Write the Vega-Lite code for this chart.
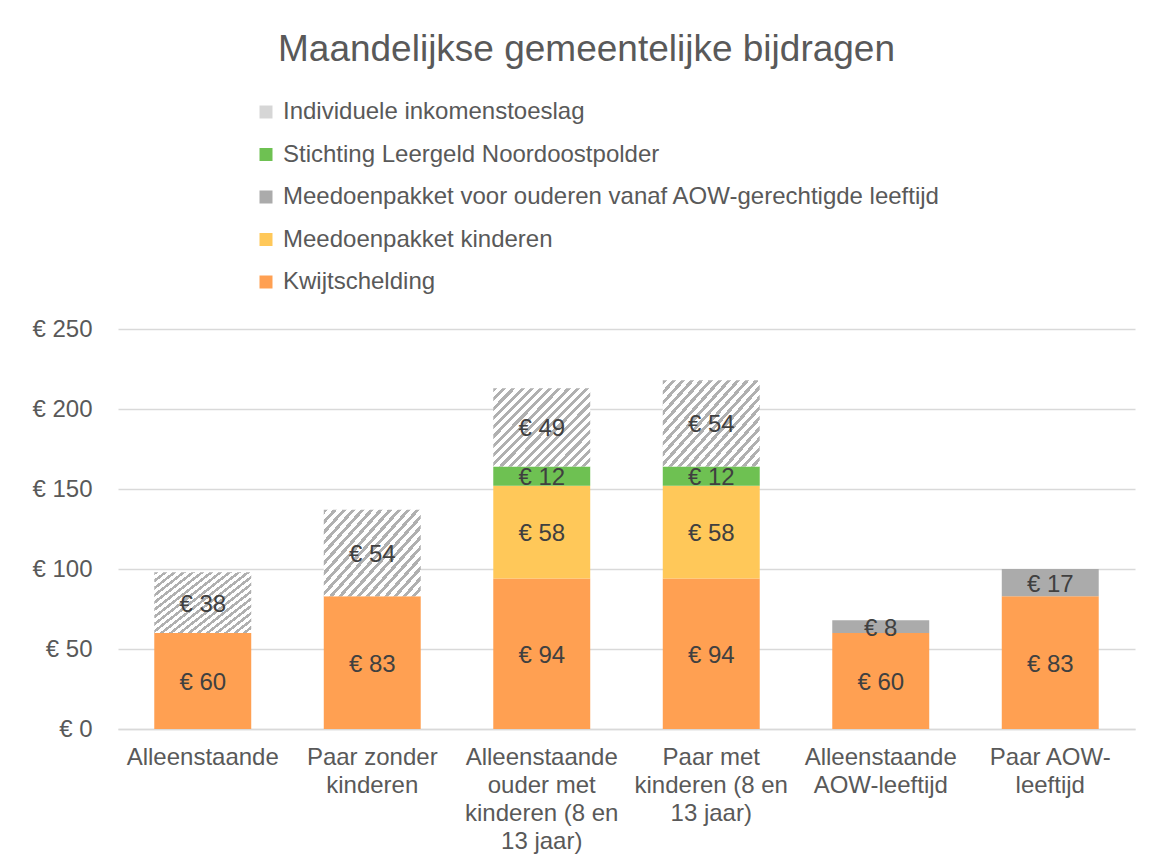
{
  "$schema": "https://vega.github.io/schema/vega-lite/v6.json",
  "width": 1017,
  "height": 400,
  "autosize": {"type": "none"},
  "padding": {"left": 118, "top": 329, "right": 25, "bottom": 132},
  "background": "white",
  "title": {
    "text": "Maandelijkse gemeentelijke bijdragen",
    "font": "Liberation Sans",
    "fontSize": 37,
    "fontWeight": "normal",
    "color": "#595959",
    "anchor": "middle",
    "frame": "group",
    "dx": -40,
    "offset": 31
  },
  "config": {
    "view": {"stroke": null},
    "locale": {"number": {"decimal": ",", "thousands": ".", "grouping": [3], "currency": ["€ ", ""]}}
  },
  "data": {
    "values": [
      {"groep": "Alleenstaande", "regeling": "Kwijtschelding", "bedrag": 60, "volgorde": 1},
      {"groep": "Alleenstaande", "regeling": "Individuele inkomenstoeslag", "bedrag": 38, "volgorde": 5},
      {"groep": "Paar zonder kinderen", "regeling": "Kwijtschelding", "bedrag": 83, "volgorde": 1},
      {"groep": "Paar zonder kinderen", "regeling": "Individuele inkomenstoeslag", "bedrag": 54, "volgorde": 5},
      {"groep": "Alleenstaande ouder met kinderen (8 en 13 jaar)", "regeling": "Kwijtschelding", "bedrag": 94, "volgorde": 1},
      {"groep": "Alleenstaande ouder met kinderen (8 en 13 jaar)", "regeling": "Meedoenpakket kinderen", "bedrag": 58, "volgorde": 2},
      {"groep": "Alleenstaande ouder met kinderen (8 en 13 jaar)", "regeling": "Stichting Leergeld Noordoostpolder", "bedrag": 12, "volgorde": 4},
      {"groep": "Alleenstaande ouder met kinderen (8 en 13 jaar)", "regeling": "Individuele inkomenstoeslag", "bedrag": 49, "volgorde": 5},
      {"groep": "Paar met kinderen (8 en 13 jaar)", "regeling": "Kwijtschelding", "bedrag": 94, "volgorde": 1},
      {"groep": "Paar met kinderen (8 en 13 jaar)", "regeling": "Meedoenpakket kinderen", "bedrag": 58, "volgorde": 2},
      {"groep": "Paar met kinderen (8 en 13 jaar)", "regeling": "Stichting Leergeld Noordoostpolder", "bedrag": 12, "volgorde": 4},
      {"groep": "Paar met kinderen (8 en 13 jaar)", "regeling": "Individuele inkomenstoeslag", "bedrag": 54, "volgorde": 5},
      {"groep": "Alleenstaande AOW-leeftijd", "regeling": "Kwijtschelding", "bedrag": 60, "volgorde": 1},
      {"groep": "Alleenstaande AOW-leeftijd", "regeling": "Meedoenpakket voor ouderen vanaf AOW-gerechtigde leeftijd", "bedrag": 8, "volgorde": 3},
      {"groep": "Paar AOW-leeftijd", "regeling": "Kwijtschelding", "bedrag": 83, "volgorde": 1},
      {"groep": "Paar AOW-leeftijd", "regeling": "Meedoenpakket voor ouderen vanaf AOW-gerechtigde leeftijd", "bedrag": 17, "volgorde": 3}
    ]
  },
  "encoding": {
    "x": {
      "field": "groep",
      "type": "nominal",
      "sort": null,
      "scale": {"paddingInner": 0.428, "paddingOuter": 0.214},
      "axis": {
        "title": null,
        "labelAngle": 0,
        "labelFont": "Liberation Sans",
        "labelFontSize": 24,
        "labelColor": "#595959",
        "labelLineHeight": 28,
        "labelPadding": 16,
        "labelLimit": 0,
        "labelOverlap": false,
        "ticks": false,
        "domainColor": "#d9d9d9",
        "domainWidth": 1.5,
        "labelExpr": "({'Paar zonder kinderen': ['Paar zonder', 'kinderen'], 'Alleenstaande ouder met kinderen (8 en 13 jaar)': ['Alleenstaande', 'ouder met', 'kinderen (8 en', '13 jaar)'], 'Paar met kinderen (8 en 13 jaar)': ['Paar met', 'kinderen (8 en', '13 jaar)'], 'Alleenstaande AOW-leeftijd': ['Alleenstaande', 'AOW-leeftijd'], 'Paar AOW-leeftijd': ['Paar AOW-', 'leeftijd']})[datum.value] || datum.value"
      }
    }
  },
  "layer": [
    {
      "mark": {"type": "bar"},
      "encoding": {
        "y": {
          "field": "bedrag",
          "type": "quantitative",
          "stack": "zero",
          "scale": {"domain": [0, 250], "nice": false},
          "axis": {
            "title": null,
            "values": [0, 50, 100, 150, 200, 250],
            "format": "$.0f",
            "labelFont": "Liberation Sans",
            "labelFontSize": 24,
            "labelColor": "#595959",
            "labelPadding": 26,
            "ticks": false,
            "domain": false,
            "gridColor": "#d9d9d9",
            "gridWidth": 1.5
          }
        },
        "color": {
          "field": "regeling",
          "type": "nominal",
          "scale": {
            "domain": ["Individuele inkomenstoeslag", "Stichting Leergeld Noordoostpolder", "Meedoenpakket voor ouderen vanaf AOW-gerechtigde leeftijd", "Meedoenpakket kinderen", "Kwijtschelding"],
            "range": ["#d6d6d6", "#6ec152", "#ababab", "#ffc859", "#ffa052"]
          },
          "condition": {
            "test": "datum.regeling === 'Individuele inkomenstoeslag'",
            "value": {
              "gradient": "linear", "x1": 0, "y1": 0, "x2": 1.098, "y2": 0.878,
              "stops": [
                {"offset": 0, "color": "#b0b0b0"}, {"offset": 0.0237, "color": "#b0b0b0"}, {"offset": 0.0237, "color": "#ffffff"}, {"offset": 0.0526, "color": "#ffffff"},
                {"offset": 0.0526, "color": "#b0b0b0"}, {"offset": 0.0763, "color": "#b0b0b0"}, {"offset": 0.0763, "color": "#ffffff"}, {"offset": 0.1053, "color": "#ffffff"},
                {"offset": 0.1053, "color": "#b0b0b0"}, {"offset": 0.1289, "color": "#b0b0b0"}, {"offset": 0.1289, "color": "#ffffff"}, {"offset": 0.1579, "color": "#ffffff"},
                {"offset": 0.1579, "color": "#b0b0b0"}, {"offset": 0.1816, "color": "#b0b0b0"}, {"offset": 0.1816, "color": "#ffffff"}, {"offset": 0.2105, "color": "#ffffff"},
                {"offset": 0.2105, "color": "#b0b0b0"}, {"offset": 0.2342, "color": "#b0b0b0"}, {"offset": 0.2342, "color": "#ffffff"}, {"offset": 0.2632, "color": "#ffffff"},
                {"offset": 0.2632, "color": "#b0b0b0"}, {"offset": 0.2868, "color": "#b0b0b0"}, {"offset": 0.2868, "color": "#ffffff"}, {"offset": 0.3158, "color": "#ffffff"},
                {"offset": 0.3158, "color": "#b0b0b0"}, {"offset": 0.3395, "color": "#b0b0b0"}, {"offset": 0.3395, "color": "#ffffff"}, {"offset": 0.3684, "color": "#ffffff"},
                {"offset": 0.3684, "color": "#b0b0b0"}, {"offset": 0.3921, "color": "#b0b0b0"}, {"offset": 0.3921, "color": "#ffffff"}, {"offset": 0.4211, "color": "#ffffff"},
                {"offset": 0.4211, "color": "#b0b0b0"}, {"offset": 0.4447, "color": "#b0b0b0"}, {"offset": 0.4447, "color": "#ffffff"}, {"offset": 0.4737, "color": "#ffffff"},
                {"offset": 0.4737, "color": "#b0b0b0"}, {"offset": 0.4974, "color": "#b0b0b0"}, {"offset": 0.4974, "color": "#ffffff"}, {"offset": 0.5263, "color": "#ffffff"},
                {"offset": 0.5263, "color": "#b0b0b0"}, {"offset": 0.55, "color": "#b0b0b0"}, {"offset": 0.55, "color": "#ffffff"}, {"offset": 0.5789, "color": "#ffffff"},
                {"offset": 0.5789, "color": "#b0b0b0"}, {"offset": 0.6026, "color": "#b0b0b0"}, {"offset": 0.6026, "color": "#ffffff"}, {"offset": 0.6316, "color": "#ffffff"},
                {"offset": 0.6316, "color": "#b0b0b0"}, {"offset": 0.6553, "color": "#b0b0b0"}, {"offset": 0.6553, "color": "#ffffff"}, {"offset": 0.6842, "color": "#ffffff"},
                {"offset": 0.6842, "color": "#b0b0b0"}, {"offset": 0.7079, "color": "#b0b0b0"}, {"offset": 0.7079, "color": "#ffffff"}, {"offset": 0.7368, "color": "#ffffff"},
                {"offset": 0.7368, "color": "#b0b0b0"}, {"offset": 0.7605, "color": "#b0b0b0"}, {"offset": 0.7605, "color": "#ffffff"}, {"offset": 0.7895, "color": "#ffffff"},
                {"offset": 0.7895, "color": "#b0b0b0"}, {"offset": 0.8132, "color": "#b0b0b0"}, {"offset": 0.8132, "color": "#ffffff"}, {"offset": 0.8421, "color": "#ffffff"},
                {"offset": 0.8421, "color": "#b0b0b0"}, {"offset": 0.8658, "color": "#b0b0b0"}, {"offset": 0.8658, "color": "#ffffff"}, {"offset": 0.8947, "color": "#ffffff"},
                {"offset": 0.8947, "color": "#b0b0b0"}, {"offset": 0.9184, "color": "#b0b0b0"}, {"offset": 0.9184, "color": "#ffffff"}, {"offset": 0.9474, "color": "#ffffff"},
                {"offset": 0.9474, "color": "#b0b0b0"}, {"offset": 0.9711, "color": "#b0b0b0"}, {"offset": 0.9711, "color": "#ffffff"}, {"offset": 1, "color": "#ffffff"}
              ]
            }
          },
          "legend": {
            "orient": "none",
            "legendX": 136,
            "legendY": -229,
            "title": null,
            "direction": "vertical",
            "padding": 0,
            "labelFont": "Liberation Sans",
            "labelFontSize": 24,
            "labelColor": "#595959",
            "labelOffset": 5,
            "labelLimit": 0,
            "symbolType": "square",
            "symbolSize": 169,
            "symbolStrokeWidth": 0,
            "rowPadding": 18.5
          }
        },
        "order": {"field": "volgorde", "type": "quantitative"}
      }
    },
    {
      "mark": {"type": "text", "font": "Liberation Sans", "fontSize": 24, "color": "#404040", "dy": 2},
      "encoding": {
        "y": {"field": "bedrag", "type": "quantitative", "stack": "zero", "bandPosition": 0.5, "scale": {"domain": [0, 250], "nice": false}},
        "detail": {"field": "regeling"},
        "order": {"field": "volgorde", "type": "quantitative"},
        "text": {"field": "bedrag", "type": "quantitative", "format": "$.0f"}
      }
    }
  ]
}
